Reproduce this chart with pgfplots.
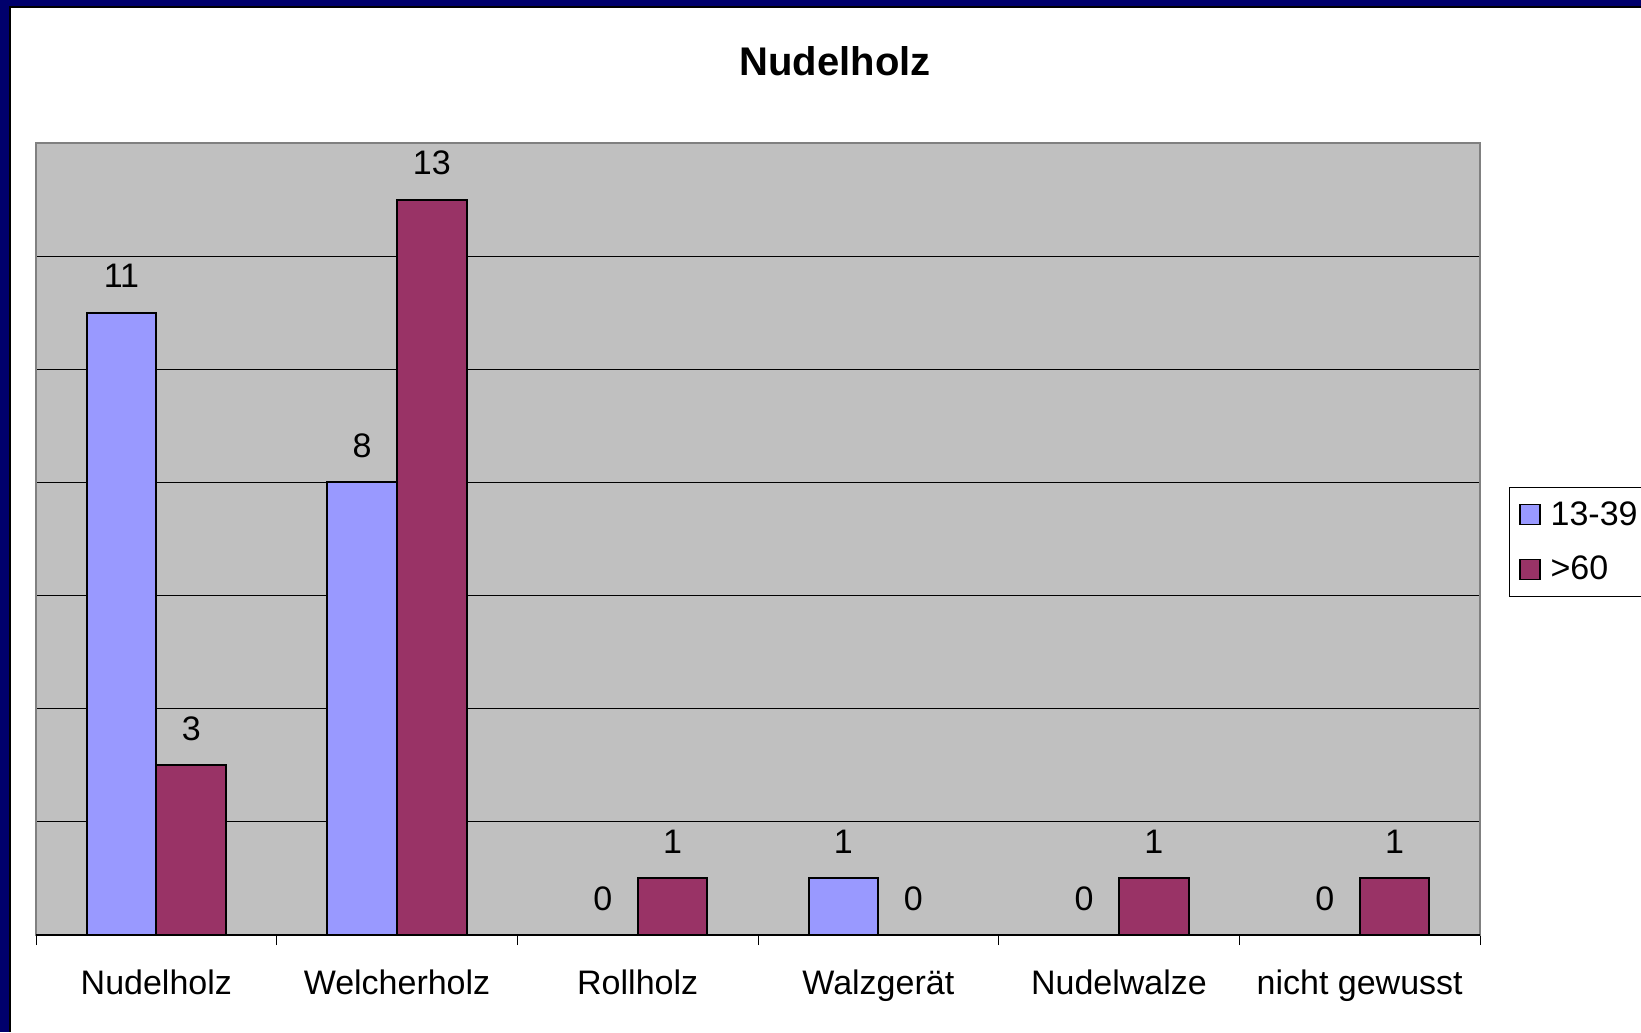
\documentclass[border=0pt]{standalone}
\usepackage{fontspec}
\setmainfont{Liberation Sans}
\usepackage{pgfplots}
\pgfplotsset{compat=1.18}

\definecolor{slidebg}{RGB}{0,0,108}
\definecolor{plotbg}{RGB}{192,192,192}
\definecolor{frame}{RGB}{128,128,128}
\definecolor{young}{RGB}{153,153,255}
\definecolor{old}{RGB}{153,51,102}

\begin{document}
\begin{tikzpicture}
% page: 1641 x 1032 px at 0.5pt per px
\useasboundingbox (0,0) rectangle (820.5pt,516pt);
\clip (0,0) rectangle (820.5pt,516pt);
\fill[white] (0,0) rectangle (820.5pt,516pt);
\fill[slidebg] (0,0) rectangle (5pt,516pt);
\fill[slidebg] (0,512.5pt) rectangle (820.5pt,516pt);
\draw[black, line width=0.6pt] (5pt,0) -- (5pt,512.5pt) -- (820.5pt,512.5pt);

\node[font=\bfseries\fontsize{20}{24}\selectfont, anchor=base] at (417.5pt,478pt) {Nudelholz};

\begin{axis}[
    at={(18pt,48.5pt)}, anchor=south west,
    scale only axis,
    width=722pt, height=396pt,
    ybar=0pt,
    bar width=0.29,
    xmin=-0.5, xmax=5.5,
    ymin=0, ymax=14,
    xtick={-0.5,0.5,...,5.5},
    x tick label as interval,
    xticklabels={Nudelholz,Welcherholz,Rollholz,Walzgerät,Nudelwalze,nicht gewusst},
    xtick style={draw=black, line width=0.5pt},
    tick align=outside,
    major tick length=5pt,
    xtick pos=bottom,
    ytick={0,2,...,14},
    yticklabels={},
    ytick style={draw=none},
    ymajorgrids,
    xmajorgrids=false,
    grid style={black, line width=0.5pt},
    axis background/.style={fill=plotbg},
    axis line style={draw=frame, line width=1pt},
    tick label style={font=\fontsize{17}{20}\selectfont},
    xticklabel style={anchor=base, yshift=-24.5pt},
    /pgf/number format/assume math mode=true,
    nodes near coords,
    every node near coord/.append style={anchor=base, yshift=12.5pt, text=black,
        font=\fontsize{17}{20}\selectfont},
    every axis plot post/.append style={
        legend image code/.code={\draw[##1, line width=0.6pt] (0pt,-5pt) rectangle (10pt,5pt);}},
    legend cell align=left,
    legend style={at={(1.0201,0.5657)}, anchor=north west, draw=black, line width=0.4pt,
        fill=white, font=\fontsize{17}{20}\selectfont, inner xsep=5pt, inner ysep=5pt,
        row sep=10pt, /tikz/every odd column/.append style={column sep=3pt}},
]
\addplot[fill=young, draw=black, line width=1pt] coordinates {(0,11) (1,8) (2,0) (3,1) (4,0) (5,0)};
\addplot[fill=old, draw=black, line width=1pt] coordinates {(0,3) (1,13) (2,1) (3,0) (4,1) (5,1)};
\legend{13-39,>60}
\draw[black, line width=0.6pt] (rel axis cs:0,0) -- (rel axis cs:1,0);
\end{axis}
\end{tikzpicture}
\end{document}
